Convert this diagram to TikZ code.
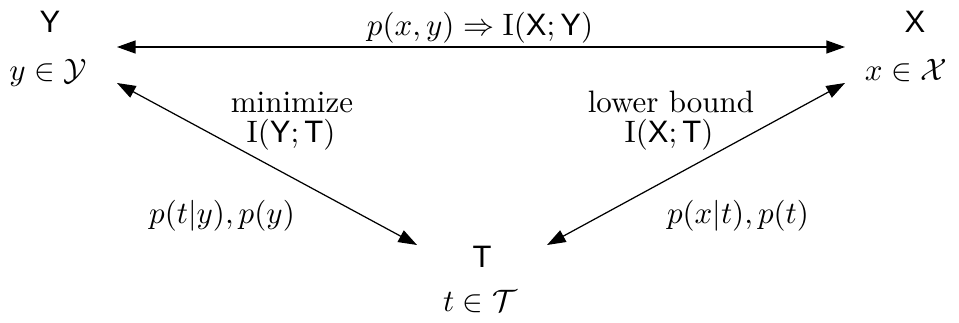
\documentclass[tikz,border=0pt]{standalone}
\usepackage{fontspec}
\usepackage{amssymb}
\newfontfamily\arialf{Liberation Sans}
\usetikzlibrary{arrows.meta}
\newcommand{\sv}[1]{\mbox{\arialf #1}}
\tikzset{
  lbl/.style={anchor=base, inner sep=0pt, font=\fontsize{10pt}{12pt}\selectfont},
  conn/.style={line width=0.4pt, {Triangle[length=6pt,width=4.2pt]}-{Triangle[length=6pt,width=4.2pt]}}
}
\begin{document}
\begin{tikzpicture}[x=0.3226pt, y=-0.3226pt]
\useasboundingbox (0,0) rectangle (959,322);
% vertex labels
\node[lbl] (Yn) at (50,32) {\sv{Y}};
\node[lbl] (Ys) at (48,81) {$y\in\mathcal{Y}$};
\node[lbl] (Xn) at (915,32) {\sv{X}};
\node[lbl] (Xs) at (906,81) {$x\in\mathcal{X}$};
\node[lbl] (Tn) at (482,267) {\sv{T}};
\node[lbl] (Ts) at (480,311) {$t\in\mathcal{T}$};
% arrow end points
\coordinate (ytop) at (117,47);
\coordinate (xtop) at (845,47);
\coordinate (ydiag) at (117,83);
\coordinate (xdiag) at (845,83);
\coordinate (tleft) at (417,245);
\coordinate (tright) at (547,245);
% connectors
\draw[conn] (ytop) -- (xtop);
\draw[conn] (ydiag) -- (tleft);
\draw[conn] (xdiag) -- (tright);
% edge labels
\node[lbl] (top) at (480,36) {$p(x,y)\Rightarrow \mathrm{I}(\sv{X};\sv{Y})$};
\node[lbl] (mn) at (292,112) {minimize};
\node[lbl] (iyt) at (291,142) {$\mathrm{I}(\sv{Y};\sv{T})$};
\node[lbl] (pty) at (222,223) {$p(t|y),p(y)$};
\node[lbl] (lb) at (671,112) {lower bound};
\node[lbl] (ixt) at (669,142) {$\mathrm{I}(\sv{X};\sv{T})$};
\node[lbl] (pxt) at (738,223) {$p(x|t),p(t)$};
\end{tikzpicture}
\end{document}
